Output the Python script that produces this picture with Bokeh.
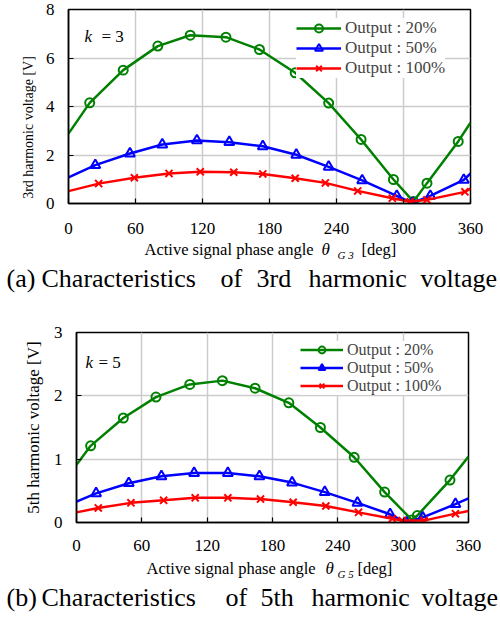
from bokeh.plotting import figure
from bokeh.layouts import column, row
from bokeh.models import Range1d, Label, Legend, LegendItem, FixedTicker
from bokeh.embed import file_html
from bokeh.resources import INLINE

FONT = "Liberation Serif"
GREEN, BLUE, RED = "#008000", "#0000ff", "#ff0000"
PAGE_X, PAGE_Y, PAGE_W = 1, 1, 499   # where the layout lands in the screenshot
SPACER_W = 10
NBSP = "\u00a0"

# ---------------- data ----------------
series_labels = ["Output : 20%", "Output : 50%", "Output : 100%"]
x_ticks = [0, 60, 120, 180, 240, 300, 360]
y_ticks_3 = [0, 2, 4, 6, 8]
y_ticks_5 = [0, 1, 2, 3]

# k = 3 (3rd harmonic) measured points
theta3_20 = [19, 49, 80, 109, 141, 171, 203, 233, 262, 291, 309, 321, 349]
v3_20 = [4.15, 5.50, 6.49, 6.94, 6.86, 6.35, 5.39, 4.14, 2.64, 0.99, 0.08, 0.84, 2.56]
theta3_50 = [24, 55, 84, 115, 144, 174, 204, 233, 263, 294, 308, 324, 354]
v3_50 = [1.58, 2.06, 2.43, 2.60, 2.53, 2.36, 2.01, 1.51, 0.95, 0.31, 0.02, 0.31, 0.97]
theta3_100 = [27, 59, 90, 118, 148, 174, 203, 230, 259, 290, 306, 321, 355]
v3_100 = [0.82, 1.06, 1.24, 1.31, 1.29, 1.22, 1.04, 0.85, 0.52, 0.22, 0.07, 0.15, 0.48]
# fitted-curve values read at 0 deg and 360 deg
curve3_start = [2.88, 1.08, 0.51]
curve3_end = [3.33, 1.24, 0.61]

# k = 5 (5th harmonic) measured points
theta5_20 = [13, 43, 73, 104, 134, 164, 195, 224, 255, 283, 308, 313, 343]
v5_20 = [1.21, 1.65, 1.98, 2.18, 2.24, 2.12, 1.89, 1.50, 1.03, 0.48, 0.04, 0.11, 0.67]
theta5_50 = [18, 48, 78, 108, 139, 168, 198, 228, 258, 288, 303, 318, 348]
v5_50 = [0.46, 0.62, 0.73, 0.78, 0.78, 0.73, 0.63, 0.48, 0.31, 0.13, 0.0, 0.08, 0.29]
theta5_100 = [20, 50, 80, 109, 139, 169, 199, 229, 259, 290, 299, 319, 348]
v5_100 = [0.23, 0.31, 0.35, 0.39, 0.39, 0.37, 0.32, 0.26, 0.16, 0.06, 0.03, 0.03, 0.14]
curve5_start = [0.91, 0.33, 0.16]
curve5_end = [1.04, 0.38, 0.18]

caption_a = "(a) Characteristics of 3rd harmonic voltage"
caption_b = "(b) Characteristics of 5th harmonic voltage"
ylabel_a = "3rd harmonic voltage [V]"
ylabel_b = "5th harmonic voltage [V]"
xlabel_main = "Active signal phase angle"


def blank(w, h):
    f = figure(width=w, height=h, x_range=Range1d(0, 1), y_range=Range1d(0, 1),
               output_backend="svg", toolbar_location=None,
               x_axis_location=None, y_axis_location=None, min_border=0)
    f.outline_line_color = None
    f.background_fill_color = "white"
    f.border_fill_color = "white"
    for g in f.grid:
        g.visible = False
    return f


def add_label(fig, ox, oy, px, py, text, size, style="normal", align="left", baseline="middle"):
    # ox, oy: page position of the figure frame's left / bottom edge
    fig.add_layout(Label(x=px - ox, y=oy - py, x_units="screen", y_units="screen", text=text,
                         text_font=FONT, text_font_size=size, text_font_style=style,
                         text_align=align, text_baseline=baseline, text_color="black"))


def build(cfg, thetas, values, starts, ends, y_max, y_ticks, k_text, ylab, sub, caption):
    top, h = cfg["fig_top"], cfg["fig_h"]
    fl, ft, fw, fh = cfg["frame_left"], cfg["frame_top"], cfg["frame_w"], cfg["frame_h"]
    fb = ft + fh
    p_left = PAGE_X + SPACER_W
    p = figure(width=PAGE_W - SPACER_W, height=h, x_range=Range1d(0, 360),
               y_range=Range1d(0, y_max), output_backend="svg", toolbar_location=None,
               min_border_left=fl - p_left, min_border_right=PAGE_X + PAGE_W - fl - fw,
               min_border_top=ft - top, min_border_bottom=h - (ft - top) - fh)
    p.background_fill_color = "white"
    p.border_fill_color = "white"
    p.outline_line_color = "black"
    p.outline_line_width = 1.5
    p.xaxis.ticker = FixedTicker(ticks=x_ticks)
    p.yaxis.ticker = FixedTicker(ticks=y_ticks)
    for ax in (p.xaxis, p.yaxis):
        ax.axis_line_color = "black"
        ax.axis_line_width = 1.5
        ax.major_tick_in = 5
        ax.major_tick_out = 0
        ax.major_tick_line_width = 1.2
        ax.minor_tick_line_color = None
        ax.major_label_text_font = FONT
        ax.major_label_text_font_size = "17px"
        ax.major_label_text_color = "black"
    p.xaxis.major_label_standoff = cfg["xstand"]
    p.yaxis.major_label_standoff = 14
    # trailing no-break spaces shift the visible title along the axis
    p.yaxis.axis_label = ylab + NBSP * cfg["ylab_pad"]
    p.yaxis.axis_label_text_font = FONT
    p.yaxis.axis_label_text_font_size = cfg["ylab_fs"]
    p.yaxis.axis_label_text_font_style = "normal"
    p.yaxis.axis_label_text_color = "black"
    p.yaxis.axis_label_standoff = cfg["ylab_stand"]
    p.grid.grid_line_color = "#cccccc"
    p.grid.grid_line_width = 1.5

    colors = [GREEN, BLUE, RED]
    markers = ["circle", "triangle", "x"]
    sizes = [9, 10, 10]
    items = []
    for i in range(3):
        cx = [0] + thetas[i] + [360]
        cy = [starts[i]] + values[i] + [ends[i]]
        lr = p.line(cx, cy, line_color=colors[i], line_width=2.5)
        sr = p.scatter(thetas[i], values[i], marker=markers[i], size=sizes[i],
                       line_color=colors[i], line_width=2, fill_alpha=0)
        items.append(LegendItem(label=series_labels[i], renderers=[lr, sr]))
    lg = cfg["legend"]
    legend = Legend(items=items, location=(lg["gx"] - 5 - fl, fb - lg["bottom"]),
                    padding=5, margin=0, spacing=0, glyph_width=lg["gw"],
                    glyph_height=lg["rh"], label_height=lg["rh"], label_standoff=4,
                    label_text_font=FONT, label_text_font_size=lg["fs"],
                    background_fill_color="white", background_fill_alpha=1.0,
                    border_line_color=None)
    p.add_layout(legend)

    # k label inside the frame
    kx, ky = cfg["k_pos"]
    add_label(p, fl, fb, kx, ky, "k", "17px", "italic")
    add_label(p, fl, fb, kx + cfg["k_gap"], ky, k_text, "17px")

    # narrow spacer so that the text strip below keeps a full-width frame
    spacer = blank(SPACER_W, h)

    # x-axis title and caption in a strip below
    t_h = cfg["text_h"]
    tfig = blank(PAGE_W, t_h)
    tb = top + h + t_h
    xs = cfg["xlab"]
    mid = xs["mid"]
    add_label(tfig, PAGE_X, tb, xs["main"], mid, xlabel_main, "16.5px")
    add_label(tfig, PAGE_X, tb, xs["theta"], mid, "\u03b8", "17px", "italic")
    add_label(tfig, PAGE_X, tb, xs["sub"], mid + 5, sub, "11px", "italic")
    add_label(tfig, PAGE_X, tb, xs["deg"], mid, "[deg]", "16.5px")
    for word, wx in zip(caption.split(" "), cfg["cap_x"]):
        add_label(tfig, PAGE_X, tb, wx, cfg["cap_mid"], word, "26px")
    return column(row(spacer, p, spacing=0), tfig, spacing=0)


cfg_a = dict(fig_top=PAGE_Y, fig_h=241, frame_left=69, frame_top=10, frame_w=402,
             frame_h=194, xstand=19, text_h=63, ylab_fs="14px", ylab_stand=7, ylab_pad=12,
             legend=dict(gx=302, bottom=78.5, gw=45, rh=20, fs="17px"),
             k_pos=(85, 37), k_gap=17,
             xlab=dict(mid=250, main=145, theta=322, sub=338, deg=362),
             cap_x=[7, 42, 221, 257, 309, 421], cap_mid=279)
cfg_b = dict(fig_top=305, fig_h=255, frame_left=77, frame_top=333, frame_w=392,
             frame_h=190, xstand=17, text_h=54, ylab_fs="17px", ylab_stand=8, ylab_pad=0,
             legend=dict(gx=306, bottom=395.5, gw=43, rh=17, fs="16px"),
             k_pos=(86, 363), k_gap=13,
             xlab=dict(mid=569, main=147, theta=326, sub=338, deg=358),
             cap_x=[7, 42, 226, 261, 312, 422], cap_mid=597.5)

part_a = build(cfg_a, [theta3_20, theta3_50, theta3_100], [v3_20, v3_50, v3_100],
               curve3_start, curve3_end, 8, y_ticks_3, "= 3", ylabel_a, "G 3", caption_a)
part_b = build(cfg_b, [theta5_20, theta5_50, theta5_100], [v5_20, v5_50, v5_100],
               curve5_start, curve5_end, 3, y_ticks_5, "= 5", ylabel_b, "G 5", caption_b)

layout = column(part_a, part_b, spacing=0)

open("out.html", "w").write(file_html(layout, INLINE))
